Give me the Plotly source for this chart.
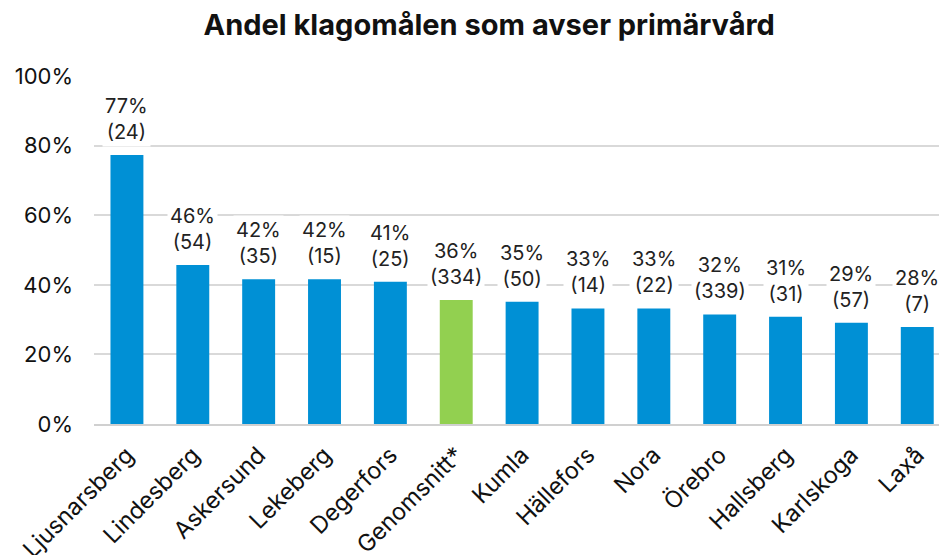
import plotly.graph_objects as go

categories = ["Ljusnarsberg", "Lindesberg", "Askersund", "Lekeberg", "Degerfors",
              "Genomsnitt*", "Kumla", "Hällefors", "Nora", "Örebro", "Hallsberg",
              "Karlskoga", "Laxå"]
shares = [77.3, 45.7, 41.6, 41.6, 40.9, 35.6, 35.1, 33.2, 33.2, 31.5, 30.8, 29.1, 27.9]
counts = [24, 54, 35, 15, 25, 334, 50, 14, 22, 339, 31, 57, 7]
pct_labels = ["77%", "46%", "42%", "42%", "41%", "36%", "35%", "33%", "33%",
              "32%", "31%", "29%", "28%"]
y_ticks = [0, 20, 40, 60, 80, 100]
y_tick_labels = ["0%", "20%", "40%", "60%", "80%", "100%"]

BLUE = "#0090D5"
GREEN = "#92D050"
colors = [GREEN if c.startswith("Genomsnitt") else BLUE for c in categories]

FONT = "Inter, Roboto, 'DejaVu Sans', sans-serif"

fig = go.Figure(go.Bar(
    x=categories, y=shares, marker=dict(color=colors, line=dict(width=0)),
    hoverinfo="skip",
))

for c, v, p, n in zip(categories, shares, pct_labels, counts):
    fig.add_annotation(
        x=c, y=v, text=f"{p}<br>({n})", showarrow=False,
        xanchor="center", yanchor="bottom", yshift=8,
        bgcolor="white", borderpad=2,
        font=dict(family=FONT, size=20, color="#222222"),
    )

fig.update_layout(
    width=939, height=555,
    margin=dict(l=94, r=0, t=76, b=131, autoexpand=False),
    paper_bgcolor="white", plot_bgcolor="white",
    bargap=0.5,
    showlegend=False,
    title=dict(text="<b>Andel klagomålen som avser primärvård</b>",
               x=0.521, xanchor="center", y=0.955, yanchor="middle",
               font=dict(family=FONT, size=29, color="#111111")),
    xaxis=dict(
        range=[-0.5, 12.33], tickangle=-45, automargin=False,
        ticklabelstandoff=6,
        tickfont=dict(family=FONT, size=23.5, color="#111111"),
        showgrid=False, showline=True, linecolor="#D0D0D0", linewidth=2,
        ticks="", fixedrange=True,
    ),
    yaxis=dict(
        range=[0, 100], tickvals=y_ticks, ticktext=y_tick_labels,
        automargin=False, ticklabelstandoff=20,
        tickfont=dict(family=FONT, size=22, color="#111111"),
        showgrid=True, gridcolor="#D9D9D9", gridwidth=1.5,
        zeroline=False, showline=False, ticks="", ticklen=0,
        fixedrange=True,
    ),
)

fig.write_html("out.html", config={"displayModeBar": False},
               post_script="document.body.style.margin='0';")
